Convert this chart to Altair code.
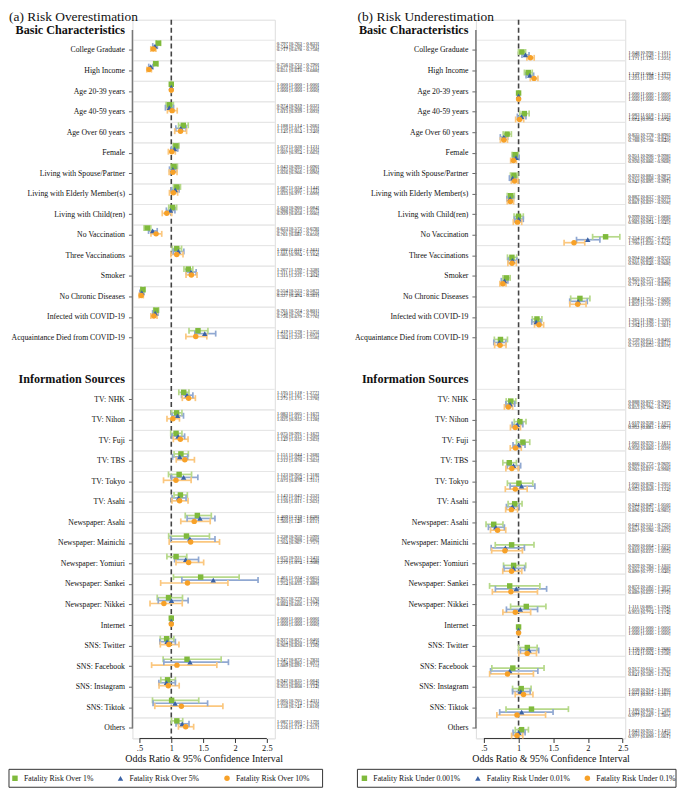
import altair as alt
import pandas as pd

FONT = "Liberation Serif"

# ---------------- categories ----------------
header_basic = "Basic Characteristics"
header_info = "Information Sources"
blank_row = " "
basic_rows = ["College Graduate", "High Income", "Age 20-39 years", "Age 40-59 years",
              "Age Over 60 years", "Female", "Living with Spouse/Partner",
              "Living with Elderly Member(s)", "Living with Child(ren)", "No Vaccination",
              "Three Vaccinations", "Smoker", "No Chronic Diseases", "Infected with COVID-19",
              "Acquaintance Died from COVID-19"]
info_rows = ["TV: NHK", "TV: Nihon", "TV: Fuji", "TV: TBS", "TV: Tokyo", "TV: Asahi",
             "Newspaper: Asahi", "Newspaper: Mainichi", "Newspaper: Yomiuri",
             "Newspaper: Sankei", "Newspaper: Nikkei", "Internet", "SNS: Twitter",
             "SNS: Facebook", "SNS: Instagram", "SNS: Tiktok", "Others"]
rows = basic_rows + info_rows

x_tick_values = [0.5, 1, 1.5, 2, 2.5]
x_tick_labels = [".5", "1", "1.5", "2", "2.5"]
ref_value = [1.0]

# ---------------- panel (a) ----------------
a_title = "(a) Risk Overestimation"
a_series = ["Fatality Risk Over 1%", "Fatality Risk Over 5%", "Fatality Risk Over 10%"]
a1_or = [0.797, 0.756, 1.000, 0.974, 1.188, 1.073, 1.043, 1.087, 1.020, 0.623, 1.086, 1.267, 0.554, 0.761, 1.419,
         1.195, 1.083, 1.075, 1.151, 1.123, 1.143, 1.409, 1.238, 1.075, 1.461, 0.957, 1.000, 0.927, 1.247, 0.942, 1.005, 1.087]
a1_lo = [0.763, 0.723, 1.000, 0.919, 1.114, 1.028, 0.993, 1.034, 0.960, 0.572, 1.016, 1.199, 0.523, 0.724, 1.278,
         1.118, 1.005, 0.991, 1.044, 0.956, 1.043, 1.219, 0.959, 0.931, 1.034, 0.779, 1.000, 0.827, 0.872, 0.835, 0.705, 1.003]
a1_hi = [0.833, 0.790, 1.000, 1.032, 1.266, 1.121, 1.096, 1.144, 1.084, 0.678, 1.161, 1.338, 0.587, 0.801, 1.575,
         1.277, 1.167, 1.167, 1.268, 1.318, 1.252, 1.628, 1.599, 1.243, 2.065, 1.176, 1.000, 1.040, 1.783, 1.064, 1.431, 1.179]
a2_or = [0.744, 0.677, 1.000, 0.969, 1.150, 1.051, 1.025, 1.062, 0.988, 0.707, 1.111, 1.311, 0.537, 0.748, 1.525,
         1.247, 1.098, 1.106, 1.133, 1.193, 1.116, 1.450, 1.291, 1.226, 1.659, 1.003, 1.000, 0.934, 1.294, 0.925, 1.059, 1.172]
a2_lo = [0.709, 0.646, 1.000, 0.908, 1.071, 1.002, 0.972, 1.005, 0.923, 0.643, 1.031, 1.236, 0.507, 0.707, 1.370,
         1.161, 1.012, 1.012, 1.020, 1.004, 1.012, 1.248, 0.988, 1.052, 1.166, 0.795, 1.000, 0.820, 0.883, 0.805, 0.714, 1.074]
a2_hi = [0.781, 0.711, 1.000, 1.035, 1.233, 1.102, 1.081, 1.121, 1.057, 0.779, 1.197, 1.390, 0.569, 0.791, 1.697,
         1.339, 1.192, 1.209, 1.257, 1.417, 1.232, 1.685, 1.686, 1.428, 2.362, 1.264, 1.000, 1.064, 1.897, 1.064, 1.570, 1.278]
a3_or = [0.717, 0.651, 1.000, 1.013, 1.145, 1.007, 1.026, 1.033, 0.929, 0.761, 1.085, 1.315, 0.527, 0.726, 1.384,
         1.272, 1.025, 1.142, 1.212, 1.073, 1.130, 1.360, 1.304, 1.272, 1.254, 0.884, 1.000, 0.963, 1.089, 0.953, 1.158, 1.226]
a3_lo = [0.678, 0.616, 1.000, 0.939, 1.054, 0.954, 0.966, 0.971, 0.858, 0.681, 0.994, 1.231, 0.494, 0.679, 1.229,
         1.173, 0.932, 1.032, 1.078, 0.878, 1.011, 1.149, 0.967, 1.074, 0.833, 0.666, 1.000, 0.828, 0.691, 0.808, 0.741, 1.112]
a3_hi = [0.758, 0.688, 1.000, 1.093, 1.240, 1.063, 1.090, 1.099, 1.006, 0.850, 1.184, 1.404, 0.561, 0.776, 1.558,
         1.378, 1.128, 1.263, 1.363, 1.311, 1.263, 1.611, 1.757, 1.508, 1.889, 1.172, 1.000, 1.120, 1.715, 1.124, 1.810, 1.351]

# ---------------- panel (b) ----------------
b_title = "(b) Risk Underestimation"
b_series = ["Fatality Risk Under 0.001%", "Fatality Risk Under 0.01%", "Fatality Risk Under 0.1%"]
b1_or = [1.048, 1.139, 1.000, 1.083, 0.835, 0.951, 0.933, 0.887, 0.999, 2.254, 0.904, 0.825, 1.884, 1.265, 0.739,
         0.888, 1.019, 1.062, 0.866, 1.005, 0.944, 0.642, 0.900, 0.929, 0.872, 1.111, 1.000, 1.126, 0.917, 1.038, 1.186, 1.043]
b1_lo = [0.998, 1.084, 1.000, 1.018, 0.778, 0.906, 0.883, 0.837, 0.935, 2.067, 0.840, 0.775, 1.751, 1.198, 0.651,
         0.822, 0.938, 0.970, 0.773, 0.839, 0.849, 0.531, 0.664, 0.783, 0.582, 0.885, 1.000, 0.999, 0.615, 0.914, 0.819, 0.952]
b1_hi = [1.101, 1.197, 1.000, 1.152, 0.896, 0.998, 0.987, 0.939, 1.068, 2.459, 0.973, 0.879, 2.028, 1.336, 0.840,
         0.960, 1.107, 1.161, 0.969, 1.205, 1.050, 0.775, 1.222, 1.103, 1.307, 1.394, 1.000, 1.268, 1.367, 1.180, 1.718, 1.142]
b2_or = [1.099, 1.161, 1.000, 1.043, 0.788, 0.963, 0.915, 0.878, 1.002, 1.997, 0.911, 0.797, 1.859, 1.254, 0.725,
         0.878, 0.981, 1.003, 0.927, 1.042, 0.912, 0.671, 0.810, 0.927, 0.967, 1.025, 1.000, 1.150, 0.873, 1.032, 1.044, 1.003]
b2_lo = [1.049, 1.108, 1.000, 0.983, 0.737, 0.920, 0.868, 0.832, 0.941, 1.835, 0.850, 0.751, 1.737, 1.190, 0.643,
         0.817, 0.907, 0.920, 0.835, 0.878, 0.825, 0.565, 0.605, 0.789, 0.666, 0.825, 1.000, 1.026, 0.596, 0.913, 0.728, 0.920]
b2_hi = [1.151, 1.217, 1.000, 1.106, 0.843, 1.008, 0.964, 0.927, 1.068, 2.172, 0.976, 0.846, 1.990, 1.321, 0.817,
         0.945, 1.062, 1.093, 1.030, 1.235, 1.009, 0.796, 1.084, 1.088, 1.404, 1.274, 1.000, 1.290, 1.278, 1.167, 1.497, 1.094]
b3_or = [1.171, 1.223, 1.000, 1.014, 0.788, 0.926, 0.942, 0.881, 0.983, 1.799, 0.905, 0.774, 1.852, 1.294, 0.733,
         0.853, 0.952, 0.956, 0.903, 0.953, 0.896, 0.697, 0.803, 0.899, 0.889, 0.953, 1.000, 1.124, 0.841, 1.071, 0.977, 0.977]
b3_lo = [1.120, 1.169, 1.000, 0.958, 0.738, 0.886, 0.895, 0.837, 0.924, 1.656, 0.846, 0.731, 1.739, 1.230, 0.655,
         0.796, 0.883, 0.880, 0.817, 0.809, 0.814, 0.596, 0.612, 0.772, 0.622, 0.774, 1.000, 1.004, 0.583, 0.951, 0.687, 0.899]
b3_hi = [1.225, 1.279, 1.000, 1.074, 0.840, 0.968, 0.991, 0.928, 1.045, 1.954, 0.968, 0.819, 1.972, 1.361, 0.819,
         0.914, 1.027, 1.039, 0.998, 1.124, 0.985, 0.815, 1.055, 1.046, 1.272, 1.174, 1.000, 1.258, 1.214, 1.207, 1.389, 1.061]

# ---------------- styles ----------------
marker_colors = ["#7fba3c", "#3a62a6", "#f7a128"]
ci_colors = ["#b6d98a", "#90a8d2", "#fbc77e"]
shapes = ["square", "triangle-up", "circle"]

y_domain = [header_basic] + basic_rows + [blank_row, header_info] + info_rows
H = 722
STEP = H / len(y_domain)
LEG_TOP, LEG_BOT = H + 31, H + 49
HDR_TEST = "datum.value == '%s' || datum.value == '%s' || datum.value == '%s'" % (
    header_basic, header_info, blank_row)
label_expr = " : ".join(
    ["datum.value == %s ? '%s'" % (v, l) for v, l in zip(x_tick_values, x_tick_labels)] + ["''"])

# legend layout (pixels relative to plot-area left edge)
LEG_A = {"box": (-124, 191), "sym": [-118, -12, 95], "lab": [-109, -3, 104]}
LEG_B = {"box": (-119, 201), "sym": [-112, 2, 112], "lab": [-103, 11, 121]}


def build_df(series, ors, los, his):
    recs = []
    for s, ol, ll, hl in zip(series, ors, los, his):
        for r, o, lo, hi in zip(rows, ol, ll, hl):
            recs.append({"row": r, "series": s, "or": o, "lo": lo, "hi": hi,
                         "label": f"{o:.3f} [{lo:.3f} - {hi:.3f}]"})
    return pd.DataFrame(recs)


def make_panel(df, series, title, width, xdomain, tdx, text_dx, leg):
    yscale = alt.Scale(domain=y_domain, paddingInner=0, paddingOuter=0)
    yaxis = alt.Axis(
        title=None, domain=False, grid=False, tickSize=4, tickWidth=1,
        tickColor={"condition": {"test": HDR_TEST, "value": "transparent"}, "value": "#666"},
        labelFontWeight={"condition": {"test": HDR_TEST, "value": "bold"}, "value": "normal"},
        labelFontSize={"condition": {"test": HDR_TEST, "value": 12.2}, "value": 7.8},
        labelFont=FONT, labelColor="#111", labelPadding=4, labelLimit=220)
    xscale = alt.Scale(domain=xdomain, nice=False, zero=False)
    xaxis = alt.Axis(
        title="Odds Ratio & 95% Confidence Interval", values=x_tick_values, labelExpr=label_expr,
        domain=False, grid=False, tickSize=4, tickColor="#333", tickWidth=1,
        labelFont=FONT, labelFontSize=8.4, labelColor="#111", labelPadding=1,
        titleFont=FONT, titleFontSize=10, titleFontWeight="normal", titleColor="#111",
        titlePadding=2)
    y_enc = alt.Y("row:N", scale=yscale, axis=yaxis)
    yoff = alt.YOffset("series:N", scale=alt.Scale(domain=series, paddingInner=0, paddingOuter=0.5))
    stroke_enc = alt.Stroke("series:N", scale=alt.Scale(domain=series, range=ci_colors), legend=None)

    grid_df = pd.DataFrame({"row": rows})
    one = pd.DataFrame({"ref": ref_value, "a": [x_tick_values[0]], "b": [x_tick_values[-1]]})

    grid_top = alt.Chart(grid_df).mark_rule(color="#e6e6e6", strokeWidth=1).encode(
        y=alt.Y("row:N", scale=yscale, axis=yaxis, bandPosition=0),
        x=alt.value(0), x2=alt.value(width))
    grid_bot = alt.Chart(grid_df).mark_rule(color="#e6e6e6", strokeWidth=1).encode(
        y=alt.Y("row:N", scale=yscale, axis=yaxis, bandPosition=1),
        x=alt.value(0), x2=alt.value(width))
    ref = alt.Chart(one).mark_rule(color="#444", strokeDash=[5, 3], strokeWidth=1.6).encode(
        x=alt.X("ref:Q", scale=xscale, axis=xaxis))
    xline = alt.Chart(one).mark_rule(color="#333", strokeWidth=1).encode(
        x=alt.X("a:Q", scale=xscale, axis=xaxis), x2="b:Q", y=alt.value(H))
    yline = alt.Chart(one).mark_rule(color="#777", strokeWidth=1.5).encode(
        x=alt.value(0), y=alt.value(STEP / 2), y2=alt.value(H - STEP / 2))

    base = alt.Chart(df)
    ci = base.mark_rule(strokeWidth=1.7).encode(
        x=alt.X("lo:Q", scale=xscale, axis=xaxis), x2="hi:Q", y=y_enc, yOffset=yoff, stroke=stroke_enc)
    cap_lo = base.mark_point(shape="M0,-1L0,1", filled=False, size=36, strokeWidth=1.7, opacity=1).encode(
        x=alt.X("lo:Q", scale=xscale, axis=xaxis), y=y_enc, yOffset=yoff, stroke=stroke_enc)
    cap_hi = base.mark_point(shape="M0,-1L0,1", filled=False, size=36, strokeWidth=1.7, opacity=1).encode(
        x=alt.X("hi:Q", scale=xscale, axis=xaxis), y=y_enc, yOffset=yoff, stroke=stroke_enc)
    pts = base.mark_point(filled=True, opacity=1, size=30).encode(
        x=alt.X("or:Q", scale=xscale, axis=xaxis), y=y_enc, yOffset=yoff,
        color=alt.Color("series:N", scale=alt.Scale(domain=series, range=marker_colors), legend=None),
        shape=alt.Shape("series:N", scale=alt.Scale(domain=series, range=shapes), legend=None))
    txt = base.mark_text(align="left", baseline="middle", fontSize=5, font=FONT, color="#222").encode(
        x=alt.value(width + text_dx), y=y_enc, yOffset=yoff, text="label:N")

    # legend box drawn below the axis
    leg_df = pd.DataFrame({"series": series})
    layers = [grid_top, grid_bot, ref, xline, yline, ci, cap_lo, cap_hi, pts, txt]
    layers.append(alt.Chart(one).mark_rect(fill="white", stroke="#333", strokeWidth=1).encode(
        x=alt.value(leg["box"][0]), x2=alt.value(leg["box"][1]),
        y=alt.value(LEG_TOP), y2=alt.value(LEG_BOT)))
    ymid = (LEG_TOP + LEG_BOT) / 2
    for i, s in enumerate(series):
        item = alt.Chart(leg_df).transform_filter(alt.datum.series == s)
        layers.append(item.mark_point(filled=True, opacity=1, size=30, shape=shapes[i],
                                      color=marker_colors[i]).encode(
            x=alt.value(leg["sym"][i]), y=alt.value(ymid)))
        layers.append(item.mark_text(align="left", baseline="middle", fontSize=7.8, font=FONT,
                                     color="#111").encode(
            x=alt.value(leg["lab"][i]), y=alt.value(ymid + 0.5), text="series:N"))

    return alt.layer(*layers).properties(
        width=width, height=H,
        title=alt.TitleParams(text=title, anchor="start", frame="group", dx=tdx, offset=-5,
                              fontSize=13.5, font=FONT, fontWeight="normal", color="#111"))


df_a = build_df(a_series, [a1_or, a2_or, a3_or], [a1_lo, a2_lo, a3_lo], [a1_hi, a2_hi, a3_hi])
df_b = build_df(b_series, [b1_or, b2_or, b3_or], [b1_lo, b2_lo, b3_lo], [b1_hi, b2_hi, b3_hi])

pa = make_panel(df_a, a_series, a_title, 143, [0.39, 2.625], -124, 2, LEG_A)
pb = make_panel(df_b, b_series, b_title, 150, [0.385, 2.537], -119, 3, LEG_B)

chart = alt.hconcat(pa, pb, spacing=30).resolve_scale(
    color="independent", shape="independent", stroke="independent",
    x="independent", y="independent"
).properties(
    padding={"left": 0, "top": 0, "right": 0, "bottom": 0}
).configure_view(stroke=None).configure(font=FONT, background="white")

chart.save("out.html", embed_options={"renderer": "svg", "actions": False})
